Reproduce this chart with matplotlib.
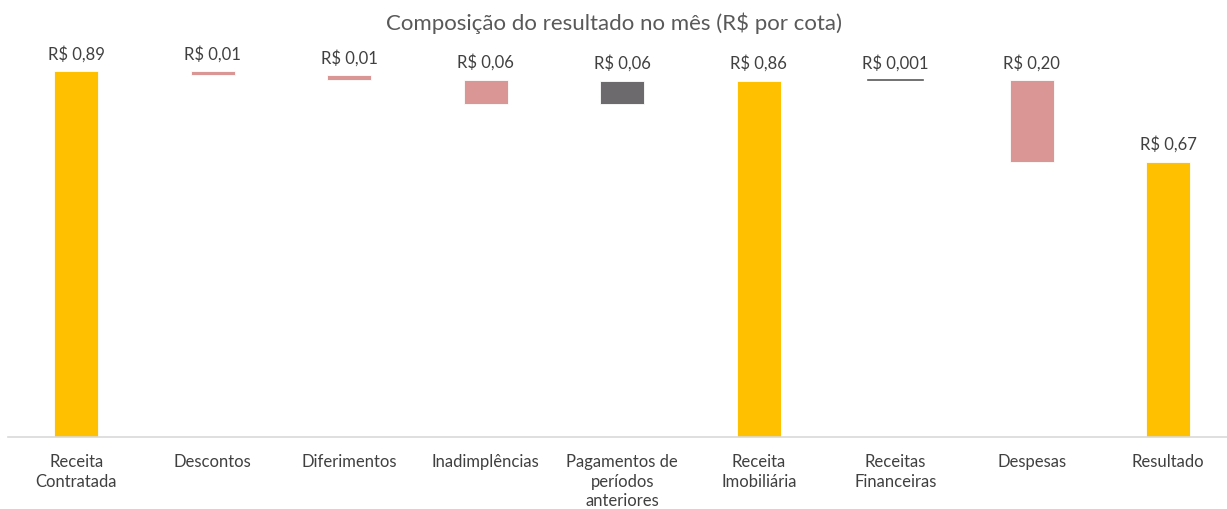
import matplotlib.pyplot as plt
import numpy as np

# Waterfall data (R$ per quota)
categories = ['Receita\nContratada', 'Descontos', 'Diferimentos', 'Inadimplências',
              'Pagamentos de\nperíodos\nanteriores', 'Receita\nImobiliária',
              'Receitas\nFinanceiras', 'Despesas', 'Resultado']
deltas = [0.887, -0.010, -0.010, -0.060, 0.057, None, 0.001, -0.198, None]
labels = ['R$ 0,89', 'R$ 0,01', 'R$ 0,01', 'R$ 0,06', 'R$ 0,06',
          'R$ 0,86', 'R$ 0,001', 'R$ 0,20', 'R$ 0,67']
kinds = ['total', 'neg', 'neg', 'neg', 'pos', 'total', 'pos', 'neg', 'total']

colors = {'total': '#FFC000', 'neg': '#DA9694', 'pos': '#6D6A6D'}

plt.rcParams['font.family'] = ['Lato', 'DejaVu Sans']

fig = plt.figure(figsize=(12.27, 5.09), dpi=100)
ax = fig.add_axes([0.0065, 0.1415, 0.9935, 0.81])

running = 0.0
x = np.arange(len(categories))
for i, (d, k) in enumerate(zip(deltas, kinds)):
    if k == 'total':
        if d is not None:
            running = d
        bottom, height = 0, running
    else:
        start = running
        running = running + d
        bottom, height = min(start, running), abs(d)
    if i == 6:
        # very small value: drawn as a thin line
        ax.plot([i - 0.2, i + 0.2], [running, running], color='#595959', lw=1.2)
        top = running
    else:
        ax.bar(i, height, bottom=bottom, width=0.32, color=colors[k], edgecolor='white', lw=0.6)
        top = bottom + height
    ax.text(i, top + 0.022, labels[i], ha='center', va='bottom', fontsize=12, color='#404040')

ax.set_xlim(-0.5, 8.43)
ax.set_ylim(0, 1.0)
ax.set_xticks(x)
ax.set_xticklabels(categories, fontsize=12, color='#404040', linespacing=1.3)
ax.tick_params(axis='x', length=0, pad=12)
ax.set_yticks([])
for s in ['top', 'right', 'left']:
    ax.spines[s].set_visible(False)
ax.spines['bottom'].set_color('#D9D9D9')
ax.spines['bottom'].set_linewidth(1.2)

fig.text(0.5, 0.955, 'Composição do resultado no mês (R$ por cota)', ha='center', va='center',
         fontsize=16, color='#595959')

fig.savefig('out.png', dpi=100)
